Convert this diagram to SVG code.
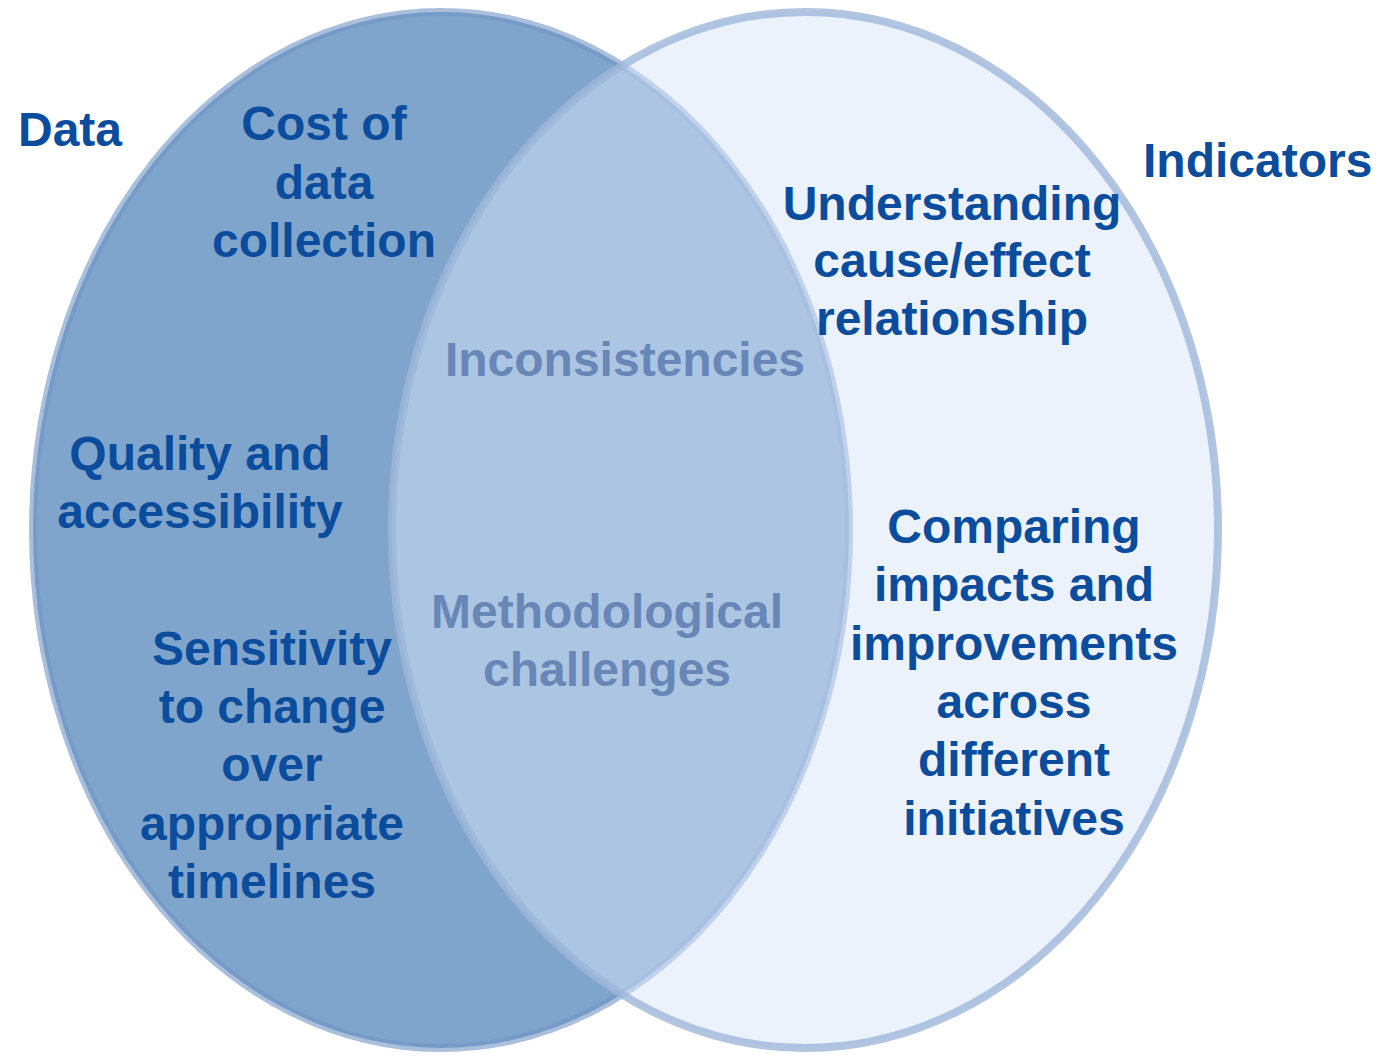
<svg xmlns="http://www.w3.org/2000/svg" width="1384" height="1056" viewBox="0 0 1384 1056">
<style>
text{font-family:"Liberation Sans",Arial,sans-serif;font-weight:bold;font-size:48px;text-anchor:middle}
.dk{fill:#0B4C9C}
.md{fill:#6886B6}
</style>
<rect width="1384" height="1056" fill="#ffffff"/>
<g id="data-set">
<ellipse cx="441" cy="530" rx="408" ry="518" fill="#80A5CC" stroke="#6F95C4" stroke-opacity="0.6" stroke-width="8"/>
</g>
<g id="indicators-set">
<ellipse cx="805" cy="530" rx="413" ry="518" fill="#D7E5F9" fill-opacity="0.5" stroke="#9DB6DA" stroke-opacity="0.8" stroke-width="8"/>
</g>
<g id="connectors"></g>
<g id="label-data"><text class="dk" x="18" y="146" style="text-anchor:start">Data</text></g>
<g id="label-indicators"><text class="dk" x="1143" y="177" style="text-anchor:start">Indicators</text></g>
<g id="cost"><text class="dk" x="324" y="140">Cost of</text><text class="dk" x="324" y="199">data</text><text class="dk" x="324" y="257">collection</text></g>
<g id="quality"><text class="dk" x="200" y="470">Quality and</text><text class="dk" x="200" y="528">accessibility</text></g>
<g id="sensitivity"><text class="dk" x="272" y="665">Sensitivity</text><text class="dk" x="272" y="723">to change</text><text class="dk" x="272" y="781">over</text><text class="dk" x="272" y="840">appropriate</text><text class="dk" x="272" y="898">timelines</text></g>
<g id="inconsistencies"><text class="md" x="625" y="376">Inconsistencies</text></g>
<g id="methodological"><text class="md" x="607" y="628">Methodological</text><text class="md" x="607" y="686">challenges</text></g>
<g id="understanding"><text class="dk" x="952" y="220">Understanding</text><text class="dk" x="952" y="277">cause/effect</text><text class="dk" x="952" y="335">relationship</text></g>
<g id="comparing"><text class="dk" x="1014" y="543">Comparing</text><text class="dk" x="1014" y="601">impacts and</text><text class="dk" x="1014" y="660">improvements</text><text class="dk" x="1014" y="718">across</text><text class="dk" x="1014" y="776">different</text><text class="dk" x="1014" y="835">initiatives</text></g>
</svg>
